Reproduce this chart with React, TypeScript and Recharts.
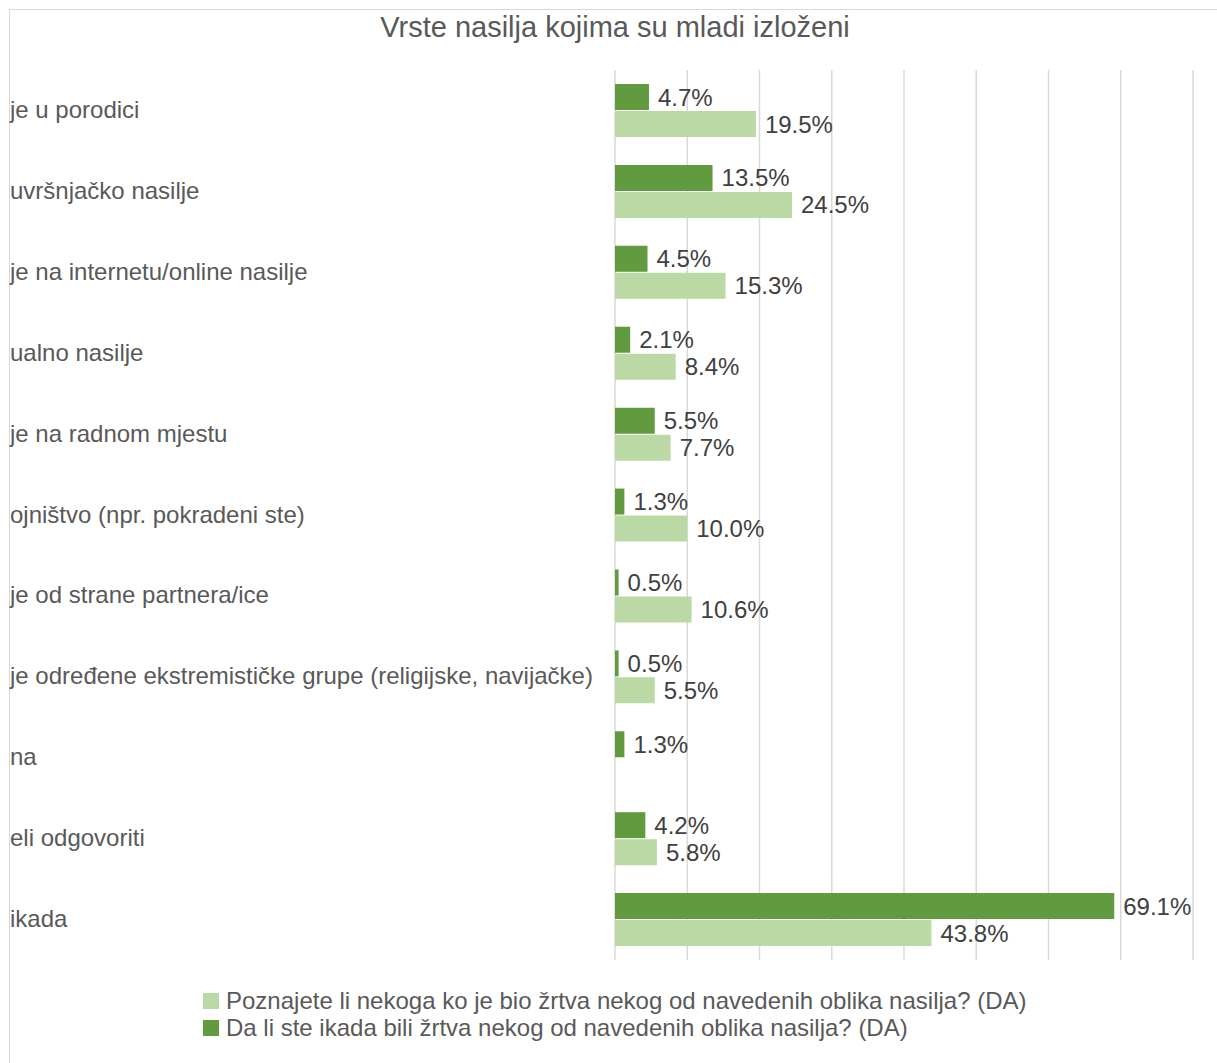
import { BarChart, Bar, XAxis, YAxis, CartesianGrid, LabelList } from "recharts";

const categories = [
  "je u porodici",
  "uvršnjačko nasilje",
  "je na internetu/online nasilje",
  "ualno nasilje",
  "je na radnom mjestu",
  "ojništvo (npr. pokradeni ste)",
  "je od strane partnera/ice",
  "je određene ekstremističke grupe (religijske, navijačke)",
  "na",
  "eli odgovoriti",
  "ikada",
];

// Da li ste ikada bili žrtva ... (DA)
const victimValues: (number | null)[] = [4.7, 13.5, 4.5, 2.1, 5.5, 1.3, 0.5, 0.5, 1.3, 4.2, 69.1];
// Poznajete li nekoga ko je bio žrtva ... (DA)
const knowValues: (number | null)[] = [19.5, 24.5, 15.3, 8.4, 7.7, 10.0, 10.6, 5.5, null, 5.8, 43.8];

const xTicks = [0, 10, 20, 30, 40, 50, 60, 70, 80];

const seriesNames = {
  know: "Poznajete li nekoga ko je bio žrtva nekog od navedenih oblika nasilja? (DA)",
  victim: "Da li ste ikada bili žrtva nekog od navedenih oblika nasilja? (DA)",
};

const DARK = "#629B3F";
const LIGHT = "#BBD9A5";
const FONT = "'Liberation Sans', Arial, sans-serif";

const data = categories.map((name, i) => ({
  name,
  victim: victimValues[i],
  know: knowValues[i],
}));

const fmt = (v: any) => (v === null || v === undefined ? "" : `${Number(v).toFixed(1)}%`);

const CategoryTick = (props: any) => {
  const { y, payload } = props;
  return (
    <text x={10} y={y} dy={-1} textAnchor="start" dominantBaseline="central" fill="#595959" fontSize={24} fontFamily={FONT}>
      {payload.value}
    </text>
  );
};

export default function App() {
  return (
    <div style={{ position: "absolute", left: 0, top: 0, width: 1217, height: 1063, overflow: "hidden", background: "#fff", fontFamily: FONT }}>
      <div style={{ position: "absolute", left: 9, top: 9, width: 1400, height: 1400, border: "1px solid #D9D9D9" }} />
      <div style={{ position: "absolute", left: 0, top: 10, width: 1230, textAlign: "center", fontSize: 29, color: "#595959", lineHeight: "34px" }}>
        Vrste nasilja kojima su mladi izloženi
      </div>
      <div style={{ position: "absolute", left: 0, top: 0 }}>
        <BarChart
          width={1217}
          height={975}
          data={data}
          layout="vertical"
          margin={{ top: 70, right: 24, bottom: 15, left: 0 }}
          barGap={1}
        >
          <CartesianGrid horizontal={false} vertical stroke="#D9D9D9" strokeWidth={1.5} />
          <XAxis type="number" domain={[0, 80]} ticks={xTicks} hide />
          <YAxis type="category" dataKey="name" width={615} axisLine={false} tickLine={false} tick={<CategoryTick />} interval={0} />
          <Bar dataKey="victim" name={seriesNames.victim} fill={DARK} barSize={26} isAnimationActive={false}>
            <LabelList dataKey="victim" position="right" offset={9} formatter={fmt} fill="#404040" fontSize={24} fontFamily={FONT} />
          </Bar>
          <Bar dataKey="know" name={seriesNames.know} fill={LIGHT} barSize={26} isAnimationActive={false}>
            <LabelList dataKey="know" position="right" offset={9} formatter={fmt} fill="#404040" fontSize={24} fontFamily={FONT} />
          </Bar>
        </BarChart>
      </div>
      <div style={{ position: "absolute", left: 203, top: 987, fontSize: 24, color: "#595959", lineHeight: "27px" }}>
        {[
          { color: LIGHT, label: seriesNames.know },
          { color: DARK, label: seriesNames.victim },
        ].map((item) => (
          <div key={item.label} style={{ display: "flex", alignItems: "center", whiteSpace: "nowrap" }}>
            <span style={{ display: "inline-block", width: 16, height: 16, background: item.color, marginRight: 7 }} />
            {item.label}
          </div>
        ))}
      </div>
    </div>
  );
}
